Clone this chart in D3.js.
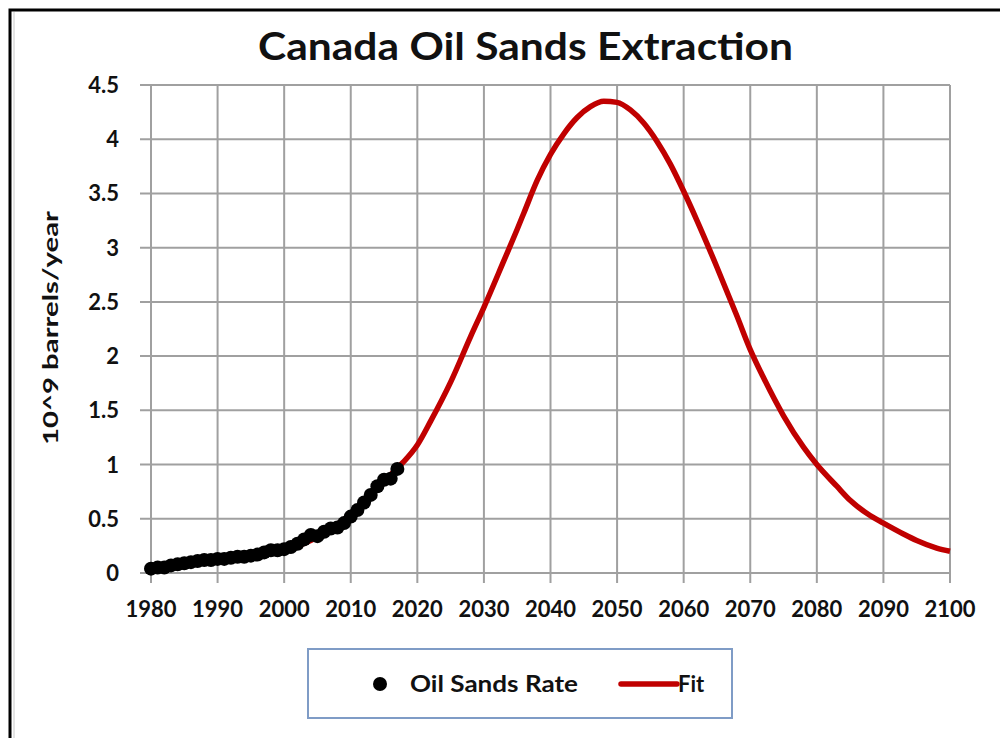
<!DOCTYPE html>
<meta charset="utf-8">
<html>
<head>
<script src="https://d3js.org/d3.v7.min.js"></script>
<style>
  body { margin: 0; background: #fff; }
  svg text { font-family: Lato, "Open Sans", sans-serif; font-weight: bold; fill: #111; }
  .grid line { stroke: #a0a0a0; stroke-width: 2px; }
</style>
</head>
<body>
<svg width="1000" height="738"></svg>
<script>

// observed oil sands extraction, 10^9 barrels/year
var rateYears = [1980,1981,1982,1983,1984,1985,1986,1987,1988,1989,
                 1990,1991,1992,1993,1994,1995,1996,1997,1998,1999,
                 2000,2001,2002,2003,2004,2005,2006,2007,2008,2009,
                 2010,2011,2012,2013,2014,2015,2016,2017];
var rateValues = [0.04,0.05,0.05,0.07,0.08,0.09,0.10,0.11,0.12,0.12,
                  0.13,0.13,0.14,0.15,0.15,0.16,0.17,0.19,0.21,0.21,
                  0.22,0.24,0.27,0.31,0.35,0.34,0.38,0.41,0.42,0.46,
                  0.52,0.58,0.65,0.72,0.80,0.86,0.87,0.96];

// fitted curve
var fitYears = [1980,1985,1990,1995,2000,2005,2008,2010,2013,2015,2017,2018,2020,2022,2025,2028,2030,
                2033,2035,2036,2038,2040,2042,2044,2046,2048,2050,2052,2054,2056,2058,2060,
                2062,2065,2068,2070,2072,2075,2078,2080,2083,2085,2088,2090,2093,2095,2098,2100];
var fitValues = [0.04,0.08,0.12,0.16,0.21,0.33,0.45,0.54,0.72,0.84,0.97,1.03,1.18,1.4,1.76,2.18,2.45,
                 2.88,3.17,3.32,3.62,3.86,4.05,4.2,4.3,4.35,4.34,4.27,4.15,3.98,3.77,3.52,
                 3.25,2.82,2.37,2.06,1.8,1.45,1.16,1.0,0.8,0.67,0.53,0.46,0.36,0.3,0.23,0.2];

var xTicks = d3.range(1980, 2101, 10);
var yTicks = [0, 0.5, 1, 1.5, 2, 2.5, 3, 3.5, 4, 4.5];

var svg = d3.select("svg");

var x = d3.scaleLinear().domain([1980, 2100]).range([151, 950]);
var y = d3.scaleLinear().domain([0, 4.5]).range([573, 85]);

// outer frame
svg.append("path")
    .attr("d", "M10,738 L10,10 L1000,10")
    .attr("fill", "none")
    .attr("stroke", "#000")
    .attr("stroke-width", 3);
svg.append("line")
    .attr("x1", 14).attr("x2", 14).attr("y1", 12).attr("y2", 738)
    .attr("stroke", "#c8c8c8").attr("stroke-width", 1);

// title
svg.append("text")
    .attr("x", 258).attr("y", 60)
    .attr("font-size", 38)
    .attr("textLength", 535)
    .attr("lengthAdjust", "spacingAndGlyphs")
    .text("Canada Oil Sands Extraction");

// gridlines
var grid = svg.append("g").attr("class", "grid");
grid.selectAll(".h").data(yTicks).enter().append("line")
    .attr("x1", 140).attr("x2", x(2100))
    .attr("y1", function(d) { return y(d); })
    .attr("y2", function(d) { return y(d); });
grid.selectAll(".v").data(xTicks).enter().append("line")
    .attr("x1", function(d) { return x(d); })
    .attr("x2", function(d) { return x(d); })
    .attr("y1", y(4.5)).attr("y2", 583);

// axis labels
svg.append("g").selectAll("text").data(yTicks).enter().append("text")
    .attr("x", 119)
    .attr("y", function(d) { return y(d) + 8; })
    .attr("text-anchor", "end")
    .attr("font-size", 22)
    .text(function(d) { return d3.format("")(d); });

svg.append("g").selectAll("text").data(xTicks).enter().append("text")
    .attr("x", function(d) { return x(d); })
    .attr("y", 617)
    .attr("text-anchor", "middle")
    .attr("font-size", 22)
    .text(function(d) { return d; });

svg.append("text")
    .attr("transform", "translate(58,328) rotate(-90)")
    .attr("text-anchor", "middle")
    .attr("font-size", 21)
    .attr("textLength", 234)
    .attr("lengthAdjust", "spacingAndGlyphs")
    .text("10^9 barrels/year");

// fit line
var line = d3.line()
    .x(function(d, i) { return x(fitYears[i]); })
    .y(function(d) { return y(d); })
    .curve(d3.curveMonotoneX);

svg.append("path")
    .datum(fitValues)
    .attr("d", line)
    .attr("fill", "none")
    .attr("stroke", "#c00000")
    .attr("stroke-width", 5.5);

// data points
svg.append("g").selectAll("circle").data(rateValues).enter().append("circle")
    .attr("cx", function(d, i) { return x(rateYears[i]); })
    .attr("cy", function(d) { return y(d); })
    .attr("r", 7)
    .attr("fill", "#000");

// legend
var lg = svg.append("g");
lg.append("rect")
    .attr("x", 308).attr("y", 649)
    .attr("width", 424).attr("height", 69)
    .attr("fill", "#fff")
    .attr("stroke", "#7f9cc6")
    .attr("stroke-width", 2);
lg.append("circle")
    .attr("cx", 380).attr("cy", 684).attr("r", 7).attr("fill", "#000");
lg.append("text")
    .attr("x", 410).attr("y", 692)
    .attr("font-size", 22)
    .attr("textLength", 168)
    .attr("lengthAdjust", "spacingAndGlyphs")
    .text("Oil Sands Rate");
lg.append("line")
    .attr("x1", 621).attr("x2", 677).attr("y1", 684).attr("y2", 684)
    .attr("stroke", "#c00000").attr("stroke-width", 5.5)
    .attr("stroke-linecap", "round");
lg.append("text")
    .attr("x", 678).attr("y", 692)
    .attr("font-size", 22)
    .text("Fit");

</script>
</body>
</html>
